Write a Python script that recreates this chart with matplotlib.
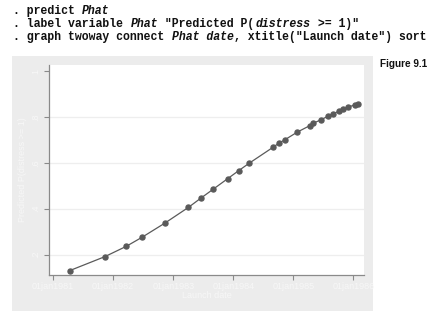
import matplotlib
matplotlib.use("Agg")
import matplotlib.pyplot as plt
from matplotlib.patches import Rectangle
import pandas as pd

# shuttle launch dates and predicted probabilities
launch_dates = ["1981-04-12", "1981-11-12", "1982-03-22", "1982-06-27", "1982-11-11",
                "1983-04-04", "1983-06-18", "1983-08-30", "1983-11-28", "1984-02-03",
                "1984-04-06", "1984-08-30", "1984-10-05", "1984-11-08", "1985-01-24",
                "1985-04-12", "1985-04-29", "1985-06-17", "1985-07-29", "1985-08-27",
                "1985-10-03", "1985-10-30", "1985-11-26", "1986-01-12", "1986-01-28"]
phat = [0.130, 0.191, 0.236, 0.276, 0.337, 0.406, 0.446, 0.484, 0.531, 0.566,
        0.598, 0.668, 0.686, 0.700, 0.734, 0.763, 0.772, 0.788, 0.803, 0.813,
        0.825, 0.833, 0.842, 0.854, 0.858]
year_ticks = ["1981-01-01", "1982-01-01", "1983-01-01", "1984-01-01", "1985-01-01", "1986-01-01"]
year_labels = ["01jan1981", "01jan1982", "01jan1983", "01jan1984", "01jan1985", "01jan1986"]
y_ticks = [0.2, 0.4, 0.6, 0.8, 1.0]
y_labels = [".2", ".4", ".6", ".8", "1"]

plt.rcParams["font.family"] = ["Liberation Sans", "DejaVu Sans"]

W, H = 447, 324
fig = plt.figure(figsize=(W / 100, H / 100), dpi=100)
fig.patch.set_facecolor("white")

# gray graph region
fig.patches.append(Rectangle((12 / W, 1 - 311 / H), (373 - 12) / W, (311 - 56) / H,
                             transform=fig.transFigure, facecolor="#ececec",
                             edgecolor="none", zorder=-10))

# command lines above the graph
mono = "Liberation Mono"
lines = [
    [(". predict ", "normal"), ("Phat", "italic")],
    [(". label variable ", "normal"), ("Phat", "italic"), (" \"Predicted P(", "normal"),
     ("distress", "italic"), (" >= 1)\"", "normal")],
    [(". graph twoway connect ", "normal"), ("Phat date", "italic"),
     (", xtitle(\"Launch date\") sort", "normal")],
]
cw = 6.92  # px per character
for i, parts in enumerate(lines):
    x = 13
    ybase = 14 + i * 13
    for txt, style in parts:
        fig.text(x / W, 1 - ybase / H, txt, family=mono, weight="bold", style=style,
                 fontsize=8.3, color="#111111", va="baseline", ha="left")
        x += cw * len(txt)

fig.text(380 / W, 1 - 67 / H, "Figure 9.1", family="Liberation Sans", weight="bold",
         fontsize=7.2, color="#111111", va="baseline", ha="left")

ax = fig.add_axes([49 / W, 1 - 274.5 / H, (364 - 49) / W, (274.5 - 65) / H])
ax.set_facecolor("white")

dates = pd.to_datetime(launch_dates)
ax.plot(dates, phat, color="#5a5a5a", lw=0.9, marker="o", ms=3.6,
        mfc="#5a5a5a", mec="#5a5a5a", zorder=3)

ax.set_xlim(pd.Timestamp("1980-12-07"), pd.Timestamp("1986-03-06"))
ax.set_ylim(0.113, 1.027)
ax.set_xticks(pd.to_datetime(year_ticks))
ax.set_xticklabels(year_labels)
ax.set_yticks(y_ticks)
ax.set_yticklabels(y_labels, rotation=90, va="center")

for v in y_ticks[:-1]:
    ax.axhline(v, color="#eeeeee", lw=0.9, zorder=1)

for side in ["top", "right"]:
    ax.spines[side].set_visible(False)
for side in ["left", "bottom"]:
    ax.spines[side].set_color("#8a8a8a")
    ax.spines[side].set_linewidth(0.9)

ax.tick_params(axis="both", colors="#8a8a8a", length=3.5, width=0.8,
               labelcolor="#f7f7f7", labelsize=6.5, pad=2)
ax.tick_params(axis="y", pad=3)
ax.set_xlabel("Launch date", color="#f7f7f7", fontsize=6.5, labelpad=0)
ax.set_ylabel("Predicted P(distress >= 1)", color="#f7f7f7", fontsize=6.5, labelpad=3)

fig.savefig("out.png", dpi=100)
